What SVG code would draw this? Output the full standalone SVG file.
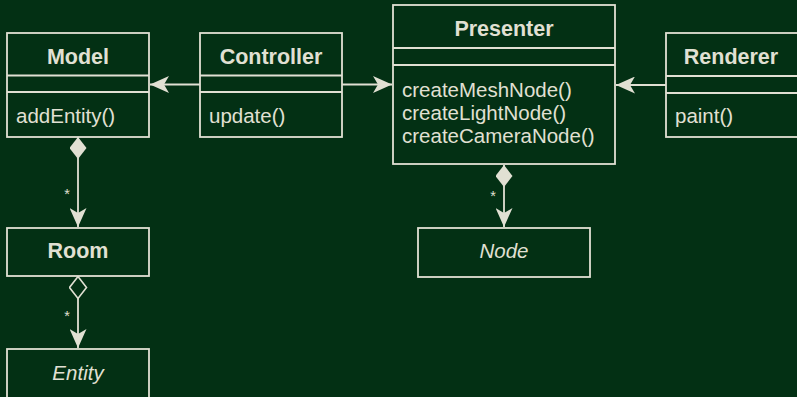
<svg xmlns="http://www.w3.org/2000/svg" width="797" height="397" viewBox="0 0 797 397">
<style>
.bg{fill:#033014}
.box{fill:#033014;stroke:#e1e0d3;stroke-width:1.8}
.ln{stroke:#e1e0d3;stroke-width:1.8;fill:none}
.t{font-family:"Liberation Sans",Arial,sans-serif;fill:#e1e0d3}
.title{font-size:21.5px;font-weight:bold;text-anchor:middle}
.m{font-size:20.5px}
.it{font-size:20.5px;font-style:italic;text-anchor:middle}
.star{font-size:14.5px;text-anchor:middle}
</style>
<defs>
<marker id="arr" markerUnits="userSpaceOnUse" viewBox="0 0 19 17" refX="19" refY="8.5" markerWidth="19" markerHeight="17" orient="auto">
<path d="M19,8.5 L0,0 L5,8.5 L0,17 Z" fill="#e1e0d3"/>
</marker>
<marker id="dia" markerUnits="userSpaceOnUse" viewBox="0 0 22 17" refX="0" refY="8.5" markerWidth="22" markerHeight="17" orient="auto">
<path d="M0,8.5 L11,0 L22,8.5 L11,17 Z" fill="#e1e0d3"/>
</marker>
<marker id="odia" markerUnits="userSpaceOnUse" viewBox="-1 -1 24 19" refX="0" refY="8.5" markerWidth="24" markerHeight="19" orient="auto">
<path d="M0,8.5 L11,0 L22,8.5 L11,17 Z" fill="#033014" stroke="#e1e0d3" stroke-width="1.6"/>
</marker>
</defs>
<rect class="bg" x="0" y="0" width="797" height="397"/>

<g id="connectors">
<line class="ln" x1="200" y1="84.5" x2="150" y2="84.5" marker-end="url(#arr)"/>
<line class="ln" x1="342" y1="84.5" x2="392" y2="84.5" marker-end="url(#arr)"/>
<line class="ln" x1="666" y1="85" x2="616" y2="85" marker-end="url(#arr)"/>
<line class="ln" x1="78" y1="137" x2="78" y2="227" marker-start="url(#dia)" marker-end="url(#arr)"/>
<text class="t star" x="67" y="199">*</text>
<line class="ln" x1="78" y1="276.5" x2="78" y2="348" marker-start="url(#odia)" marker-end="url(#arr)"/>
<text class="t star" x="67" y="321">*</text>
<line class="ln" x1="504" y1="165" x2="504" y2="227" marker-start="url(#dia)" marker-end="url(#arr)"/>
<text class="t star" x="493" y="201">*</text>
</g>

<g id="Model">
<rect class="box" x="7" y="33" width="142" height="104"/>
<line class="ln" x1="7" y1="75.5" x2="149" y2="75.5"/>
<line class="ln" x1="7" y1="92" x2="149" y2="92"/>
<text class="t title" x="78" y="64">Model</text>
<text class="t m" x="16" y="123">addEntity()</text>
</g>

<g id="Controller">
<rect class="box" x="200" y="33" width="142" height="104"/>
<line class="ln" x1="200" y1="75.5" x2="342" y2="75.5"/>
<line class="ln" x1="200" y1="92" x2="342" y2="92"/>
<text class="t title" x="271" y="64">Controller</text>
<text class="t m" x="209" y="123">update()</text>
</g>

<g id="Presenter">
<rect class="box" x="393" y="5" width="222" height="159"/>
<line class="ln" x1="393" y1="48" x2="615" y2="48"/>
<line class="ln" x1="393" y1="65" x2="615" y2="65"/>
<text class="t title" x="504" y="36">Presenter</text>
<text class="t m" x="402" y="97">createMeshNode()</text>
<text class="t m" x="402" y="120">createLightNode()</text>
<text class="t m" x="402" y="143">createCameraNode()</text>
</g>

<g id="Renderer">
<rect class="box" x="666" y="33" width="142" height="104"/>
<line class="ln" x1="666" y1="76" x2="808" y2="76"/>
<line class="ln" x1="666" y1="93" x2="808" y2="93"/>
<text class="t title" x="731" y="64">Renderer</text>
<text class="t m" x="675" y="123">paint()</text>
</g>

<g id="Room">
<rect class="box" x="7" y="228" width="142" height="48"/>
<text class="t title" x="78" y="258">Room</text>
</g>

<g id="Entity">
<rect class="box" x="7" y="349" width="142" height="60"/>
<text class="t it" x="78" y="380">Entity</text>
</g>

<g id="Node">
<rect class="box" x="418" y="228" width="172" height="49"/>
<text class="t it" x="504" y="258">Node</text>
</g>
</svg>
